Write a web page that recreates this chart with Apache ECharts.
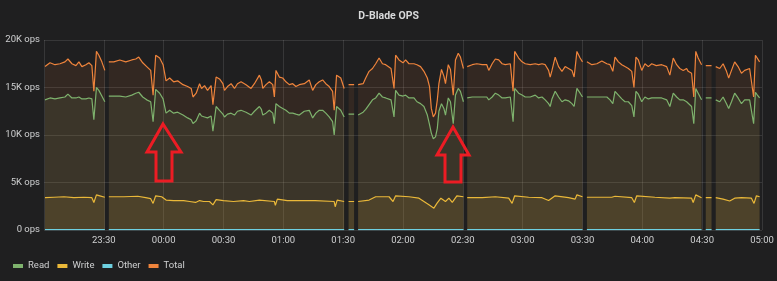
<!DOCTYPE html>
<html><head><meta charset="utf-8">
<script src="https://cdn.jsdelivr.net/npm/echarts@6/dist/echarts.min.js"></script>
<style>html,body{margin:0;padding:0;background:#1f1f20;}#c{width:777px;height:281px;}</style>
</head><body><div id="c"></div><script>
// x values: minutes after 23:00 ; y values: thousands of ops
const xTickLabels = ['23:00','23:30','00:00','00:30','01:00','01:30','02:00','02:30','03:00','03:30','04:00','04:30','05:00'];
const yTickLabels = ['0 ops','5K ops','10K ops','15K ops','20K ops'];
const seriesNames = ['Read','Write','Other','Total'];

const rtMinutes = [0.5,3,5.5,8,10.5,12,14,16,17.5,19,21,22.5,24,25,26.3,27.5,29,30.5,31.5,
32.5,35,38,41,44,46,47.5,49.5,51.5,53.5,54.7,56,58,59.7,61.2,63,65,67,68,69.7,72,73.8,74.7,76.3,78,79,80.5,82,83.8,84.7,86.3,88,89.7,90.5,92,93.8,95.5,97,98.8,101.3,103.8,105.5,108,109,109.7,111.3,113,114.7,115.5,116.3,118,119.7,121.3,123,124.7,126.3,128,130.5,133,134.7,136.3,138,139.7,141.3,143,144.7,145.5,146.7,148.8,150.5,151.5,
152.7,155.5,156.5,157.5,160,161.3,163,164.7,166.3,168,169.7,171.3,174,175.5,176.3,178,180,181.3,183,185.5,187,188.8,190.5,192.2,193.3,194.2,195.2,196.3,197.2,198,199.3,200.5,201.3,202.7,203.8,205.2,206.3,207.7,208.8,210.3,211.2,
212.2,214.7,217,219.7,222,223,224.7,226.3,228,229.7,231.3,233.8,235.2,236,238,239.7,241.3,243.8,246.3,248,249.7,251.3,253,253.8,254.7,256.3,257.2,258,259.7,261.3,263,264.7,265.8,267.2,268.8,270,271,
272.2,274.7,277.2,279.7,282.2,283.8,285.2,286.3,288,289.7,291.3,293,294.7,295.8,296.8,298,299.7,301.3,303,304.7,307,309.7,312.2,313.8,315.5,317.2,318.8,320.5,322.2,323,324.7,325.8,326.8,328,329.7,330.7,
331.8,334.7,335.7,336.8,338.8,340.5,342.2,343.3,344.7,346.3,348,349.7,351.3,353.8,354.7,355.8,356.7,357.7,358.8];

const totalOps = [17.2,17.6,17.4,17.5,17.7,18.0,17.5,17.3,17.7,17.2,17.4,17.6,17.3,14.6,18.8,18.4,17.7,16.8,null,
17.7,17.7,17.9,17.7,17.9,18.0,18.2,17.6,17.2,16.8,14.2,18.4,18.1,17.4,15.7,16.0,15.6,15.7,15.8,15.3,15.1,14.9,14.0,14.4,15.4,14.9,15.2,14.7,15.2,13.2,16.1,15.9,15.4,14.7,15.1,15.4,14.9,15.4,15.6,15.3,14.9,15.4,16.3,15.8,14.9,15.3,15.6,15.3,14.0,16.8,16.1,16.0,15.6,15.3,15.4,15.1,15.3,15.4,15.8,14.7,15.3,15.6,15.8,15.4,15.1,14.6,12.6,16.3,16.0,14.9,null,
15.3,15.3,null,15.3,15.4,16.0,16.7,17.0,17.5,18.1,17.5,17.4,17.0,14.9,18.4,17.9,17.6,17.9,17.5,17.5,17.4,17.2,16.7,16.0,15.1,12.8,11.9,12.3,13.7,15.4,16.9,16.2,15.4,17.4,16.9,14.2,17.9,18.6,18.2,17.0,null,
17.2,17.4,17.5,17.4,17.4,16.8,17.5,18.0,17.9,17.5,17.4,17.5,14.6,18.8,18.1,17.7,17.5,17.4,17.5,17.4,17.5,17.4,16.8,16.1,16.8,18.2,18.0,17.2,16.7,17.2,17.0,16.8,16.1,18.8,18.1,17.7,null,
17.7,17.4,17.5,17.8,17.5,17.4,16.7,18.2,17.7,17.4,17.2,17.0,16.7,15.0,18.2,17.9,16.8,17.5,17.2,17.5,17.3,17.4,17.2,16.3,18.1,17.4,17.0,16.8,17.0,16.7,16.5,14.0,18.8,18.1,17.4,null,
17.3,17.3,null,17.2,17.0,17.5,16.7,16.0,16.8,17.7,17.2,16.5,16.8,17.0,16.8,14.0,18.4,18.2,17.7];

const readOps = [13.7,13.9,13.8,13.9,14.0,14.3,13.9,13.9,14.0,13.8,13.8,13.9,13.8,11.6,15.0,14.7,14.1,13.5,null,
14.1,14.1,14.1,14.0,14.2,14.4,14.5,14.0,13.7,13.5,11.4,14.8,14.4,13.8,12.3,12.6,12.3,12.4,12.5,12.1,11.8,11.6,11.2,11.5,12.3,12.0,11.9,11.8,12.0,10.4,13.0,12.6,12.2,11.9,12.2,12.3,12.1,12.5,12.6,12.4,12.1,12.5,13.0,12.7,12.1,12.3,12.6,12.3,11.2,13.3,13.0,12.8,12.6,12.3,12.3,12.2,12.1,12.5,12.6,11.8,12.3,12.6,12.6,12.3,11.9,11.4,10.0,13.0,12.6,11.9,null,
12.2,12.2,null,12.1,12.4,12.7,13.2,13.7,13.9,14.4,14.0,13.9,13.7,11.9,14.7,14.2,14.1,14.2,13.9,13.9,13.5,13.3,13.0,12.1,11.1,10.2,9.6,9.8,10.7,12.5,13.3,12.8,12.1,13.9,13.5,11.2,14.2,14.9,14.6,13.5,null,
13.9,14.0,14.0,14.0,14.0,13.7,14.0,14.4,14.2,13.9,13.9,14.0,11.4,14.9,14.4,14.2,14.0,14.0,14.2,13.9,14.0,13.7,13.3,13.0,13.8,14.6,14.4,14.0,13.5,13.7,13.6,13.3,13.0,14.9,14.4,14.0,null,
14.0,14.0,14.0,14.0,14.0,13.7,13.3,14.6,14.2,13.8,13.5,13.5,13.1,11.9,14.6,14.3,13.5,14.0,13.8,13.9,13.9,13.9,13.7,13.0,14.4,14.0,13.7,13.7,13.5,13.3,13.0,11.2,14.9,14.4,13.7,null,
13.9,13.9,null,13.7,13.5,14.0,13.3,12.8,13.5,14.4,13.9,13.3,13.7,13.7,13.5,11.2,14.5,14.2,13.9];

const writeMinutes = [0.5,5,10,15,20,24,25,26.3,28,30.5,31.5,
32.5,40,47,51,53.5,54.7,56,59,61.2,65,70,73,76,78,80,83,84.7,86.3,90,95,100,103,108,115.5,116,117,122,128,136,145.5,146,147,150.5,151.5,
152.7,155.5,156.5,157.5,163,166.3,173,175,176.3,183,188,193,195.5,197,199,201.3,203,204.7,207,210.3,211.2,
212.2,219.7,226.3,233,234.7,236,243,249.7,253,256.3,263,266.3,267.2,270,271,
272.2,284.7,285.5,286.3,294.7,296,297.2,306.3,313.8,314.7,316.3,324.7,325.5,326.8,329.7,330.7,
331.8,334.7,335.7,336.8,340.5,343.8,346.3,349.7,354.7,356,357.2,358.8];

const writeOps = [3.4,3.45,3.5,3.4,3.45,3.4,2.9,3.7,3.6,3.45,null,
3.5,3.5,3.55,3.4,3.3,2.8,3.6,3.5,3.15,3.1,3.1,3.0,2.9,3.1,3.0,3.0,2.65,3.2,3.1,3.0,3.1,3.0,3.15,3.0,2.6,3.25,3.1,3.1,3.1,3.0,2.45,3.15,3.0,null,
3.0,3.0,null,3.0,3.15,3.5,3.5,3.0,3.6,3.5,3.35,2.65,2.3,2.8,3.35,3.0,3.35,2.9,3.6,3.5,null,
3.4,3.4,3.5,3.35,2.8,3.6,3.45,3.4,3.1,3.6,3.4,3.25,3.7,3.5,null,
3.45,3.45,3.25,3.55,3.4,2.9,3.6,3.45,3.35,3.15,3.4,3.35,2.9,3.7,3.4,null,
3.4,3.4,null,3.4,3.25,3.05,3.35,3.4,3.35,2.8,3.6,3.5];

const otherMinutes = [0.5,30.5,31.5,32.5,150.5,151.5,152.7,155.5,156.5,157.5,210.3,211.2,212.2,270,271,272.2,329.7,330.7,331.8,334.7,335.7,336.8,358.8];
const otherOps = [0.05,0.05,null,0.05,0.05,null,0.05,0.05,null,0.05,0.05,null,0.05,0.05,null,0.05,0.05,null,0.05,0.05,null,0.05,0.05];

const colors = {Read:'#7eb26d', Write:'#eab839', Other:'#6ed0e0', Total:'#ef843c'};
const textColor = '#cfd0d1';
const font = 'Roboto, "Liberation Sans", sans-serif';

function pairs(ts, vs){ return ts.map((t,i)=>[t, vs[i]==null?'-':vs[i]]); }
function mk(name, ts, vs){
  return {name:name, type:'line', data:pairs(ts,vs), showSymbol:false, symbol:'none',
    connectNulls:false, animation:false, emphasis:{disabled:true},
    lineStyle:{width:1.2, color:colors[name]}, itemStyle:{color:colors[name]},
    areaStyle:{color:colors[name], opacity:0.1}};
}
const arrowStyle = {fill:'none', stroke:'#ec1c24', lineWidth:3, lineJoin:'miter'};

const chart = echarts.init(document.getElementById('c'));
chart.setOption({
  backgroundColor:'#1f1f20',
  animation:false,
  title:{text:'D-Blade OPS', left:'center', top:6,
    textStyle:{color:'#d8d9da', fontSize:10.5, fontWeight:'bold', fontFamily:font}},
  grid:{left:44, right:15, top:40, bottom:51},
  xAxis:{type:'value', min:0, max:360, interval:30,
    axisLine:{show:false}, axisTick:{show:false},
    splitLine:{show:true, lineStyle:{color:'rgba(255,255,255,0.11)', width:1}},
    axisLabel:{color:textColor, fontSize:9.5, fontFamily:font, margin:6, showMinLabel:false,
      formatter:v=>xTickLabels[Math.round(v/30)]}},
  yAxis:{type:'value', min:0, max:20, interval:5,
    axisLine:{show:false}, axisTick:{show:false},
    splitLine:{show:true, lineStyle:{color:'rgba(255,255,255,0.11)', width:1}},
    axisLabel:{color:textColor, fontSize:9.5, fontFamily:font, margin:4,
      formatter:v=>yTickLabels[Math.round(v/5)]}},
  legend:{left:13, top:261, padding:0, itemGap:8, itemWidth:10, itemHeight:4,
    textStyle:{color:textColor, fontSize:9.5, fontFamily:font},
    data:seriesNames.map(n=>({name:n, icon:'rect'}))},
  series:[
    mk('Read', rtMinutes, readOps),
    mk('Write', writeMinutes, writeOps),
    mk('Other', otherMinutes, otherOps),
    mk('Total', rtMinutes, totalOps)
  ],
  graphic:[
    {type:'polygon', z:100, shape:{points:[[163,124],[181,152],[172,152],[172,181],[156,181],[156,152],[147,152]]}, style:arrowStyle},
    {type:'polygon', z:100, shape:{points:[[453,127],[469,155],[461,155],[461,182],[445,182],[445,155],[437,155]]}, style:arrowStyle}
  ]
});
</script></body></html>
